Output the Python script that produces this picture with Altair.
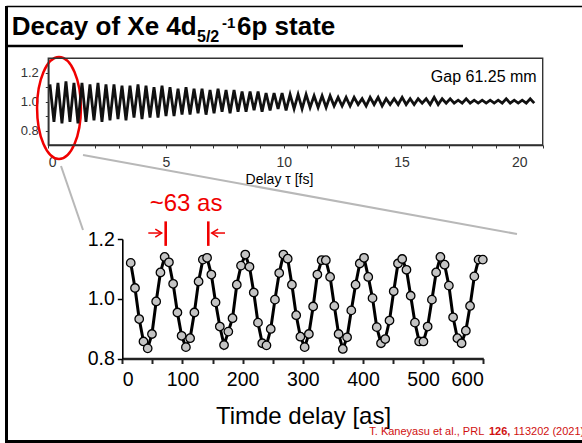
import altair as alt
import pandas as pd

# ---------------- data ----------------
# lower (zoomed) panel: delay in attoseconds and normalised signal
zoom_delay_as = [14.0, 21.1, 28.1, 35.2, 42.2, 49.3, 56.3, 63.4, 70.4, 77.5,
                 84.5, 91.6, 98.6, 105.7, 112.7, 119.8, 126.8, 133.9, 140.9, 148.0,
                 155.0, 162.1, 169.1, 176.2, 183.2, 190.3, 197.3, 204.4, 211.4, 218.5,
                 225.5, 232.6, 239.6, 246.7, 253.7, 260.8, 267.8, 274.9, 281.9, 289.0,
                 296.0, 303.1, 310.1, 317.2, 324.2, 331.3, 338.3, 345.4, 352.4, 359.5,
                 366.5, 373.6, 380.6, 387.7, 394.7, 401.8, 408.8, 415.9, 422.9, 430.0,
                 437.0, 444.1, 451.1, 458.2, 465.2, 472.3, 479.3, 486.4, 493.4, 500.5,
                 507.5, 514.6, 521.6, 528.7, 535.7, 542.8, 549.8, 556.9, 563.9, 571.0,
                 578.0, 585.1, 592.1, 599.2]
zoom_signal = [1.120, 1.036, 0.932, 0.857, 0.834, 0.882, 0.991, 1.088, 1.140, 1.122,
               1.050, 0.954, 0.876, 0.838, 0.868, 0.954, 1.058, 1.131, 1.137, 1.081,
               0.988, 0.907, 0.845, 0.890, 0.935, 1.047, 1.111, 1.148, 1.107, 1.021,
               0.920, 0.851, 0.844, 0.899, 0.997, 1.086, 1.148, 1.134, 1.047, 0.945,
               0.873, 0.838, 0.882, 0.974, 1.081, 1.129, 1.129, 1.073, 0.976, 0.882,
               0.832, 0.871, 0.961, 1.047, 1.118, 1.137, 1.073, 1.002, 0.905, 0.851,
               0.865, 0.927, 1.025, 1.118, 1.133, 1.097, 1.010, 0.920, 0.857, 0.857,
               0.907, 0.997, 1.088, 1.140, 1.114, 1.044, 0.938, 0.868, 0.851, 0.893,
               0.976, 1.075, 1.131, 1.131]

# upper (overview) panel: visible extrema of the decaying trace, delay in fs
overview_delay_fs = [0.07, 0.24, 0.41, 0.58, 0.75, 0.92, 1.09, 1.26, 1.43, 1.60,
                     1.77, 1.94, 2.11, 2.28, 2.45, 2.62, 2.79, 2.96, 3.13, 3.30,
                     3.47, 3.64, 3.81, 3.98, 4.15, 4.32, 4.49, 4.66, 4.83, 5.00,
                     5.17, 5.34, 5.51, 5.68, 5.85, 6.02, 6.19, 6.36, 6.53, 6.70,
                     6.87, 7.04, 7.21, 7.38, 7.55, 7.72, 7.89, 8.06, 8.23, 8.40,
                     8.57, 8.74, 8.91, 9.08, 9.25, 9.42, 9.59, 9.76, 9.93, 10.10,
                     10.27, 10.44, 10.61, 10.78, 10.95, 11.12, 11.29, 11.46, 11.63, 11.80,
                     11.97, 12.14, 12.31, 12.48, 12.65, 12.82, 12.99, 13.16, 13.33, 13.50,
                     13.67, 13.84, 14.01, 14.18, 14.35, 14.52, 14.69, 14.86, 15.03, 15.20,
                     15.37, 15.54, 15.71, 15.88, 16.05, 16.22, 16.39, 16.56, 16.73, 16.90,
                     17.07, 17.24, 17.41, 17.58, 17.75, 17.92, 18.09, 18.26, 18.43, 18.60,
                     18.77, 18.94, 19.11, 19.28, 19.45, 19.62, 19.79, 19.96, 20.13, 20.30,
                     20.47, 20.64]
overview_signal = [1.12, 0.86, 1.13, 0.85, 1.14, 0.86, 1.13, 0.85, 1.13, 0.86,
                   1.12, 0.87, 1.13, 0.86, 1.12, 0.87, 1.12, 0.88, 1.11, 0.87,
                   1.11, 0.89, 1.12, 0.88, 1.11, 0.89, 1.10, 0.89, 1.11, 0.90,
                   1.10, 0.90, 1.09, 0.91, 1.10, 0.91, 1.09, 0.92, 1.09, 0.91,
                   1.08, 0.92, 1.09, 0.93, 1.08, 0.92, 1.08, 0.93, 1.07, 0.93,
                   1.07, 0.94, 1.07, 0.93, 1.06, 0.94, 1.06, 0.95, 1.06, 0.94,
                   1.05, 0.95, 1.05, 0.95, 1.05, 0.96, 1.04, 0.96, 1.04, 0.96,
                   1.04, 0.97, 1.03, 0.97, 1.03, 0.97, 1.03, 0.98, 1.02, 0.97,
                   1.03, 0.98, 1.03, 0.97, 1.02, 0.98, 1.02, 0.98, 1.03, 0.98,
                   1.02, 0.98, 1.02, 0.99, 1.02, 0.98, 1.03, 0.98, 1.02, 0.99,
                   1.02, 0.99, 1.01, 0.99, 1.02, 0.99, 1.01, 0.99, 1.01, 0.99,
                   1.01, 0.99, 1.01, 0.99, 1.02, 0.99, 1.01, 0.99, 1.01, 0.99,
                   1.02, 0.99]

lower_x_ticks = [0, 50, 100, 150, 200, 250, 300, 350, 400, 450, 500, 550, 600]
lower_y_ticks = [0.8, 1.0, 1.2]
upper_x_ticks = list(range(0, 22))
upper_y_ticks = [0.8, 0.9, 1.0, 1.1, 1.2]

FONT = "Liberation Sans"
RED = "#f00000"

# ---------------- scales (pixel placement of each panel) ----------------
LX = alt.Scale(domain=[0, 600], range=[122.3, 483.3], nice=False, zero=False)
LY = alt.Scale(domain=[0.8, 1.2], range=[358.5, 239], nice=False, zero=False)
TX = alt.Scale(domain=[0, 21], range=[48.3, 542.7], nice=False, zero=False)
TY = alt.Scale(domain=[0.7, 1.3], range=[145, 58.3], nice=False, zero=False)
PX = alt.Scale(domain=[0, 582], range=[0, 582], nice=False, zero=False)
PY = alt.Scale(domain=[0, 443], range=[0, 443], nice=False, zero=False)

W, H = 582, 443

# ---------------- lower panel ----------------
lower_df = pd.DataFrame({"t": zoom_delay_as, "s": zoom_signal})

lower_line = alt.Chart(lower_df).mark_line(color="black", strokeWidth=3).encode(
    x=alt.X("t:Q", scale=LX, axis=alt.Axis(
        orient="bottom", offset=358.5 - H, values=lower_x_ticks,
        labelExpr="datum.value % 100 == 0 ? datum.label : ''",
        labelFont=FONT, labelFontSize=19.5, labelColor="black", labelPadding=7,
        tickSize=5, tickWidth=2, tickColor="#222", domainWidth=2.5, domainColor="#222",
        title="Timde delay [as]", titleFont=FONT, titleFontSize=24,
        titleFontWeight="normal", titleColor="black", titleX=303, titleY=65,
        titleBaseline="alphabetic")),
    y=alt.Y("s:Q", scale=LY, axis=alt.Axis(
        orient="left", offset=-122.3, values=lower_y_ticks, format=".1f",
        labelFont=FONT, labelFontSize=19.5, labelColor="black", labelPadding=3,
        tickSize=5, tickWidth=1.5, tickColor="black", domainWidth=1.6,
        domainColor="black", title=None)),
)

lower_pts = alt.Chart(lower_df).mark_point(
    filled=True, fill="#c4c4c4", stroke="black", strokeWidth=1.3, size=72, opacity=1
).encode(
    x=alt.X("t:Q", scale=LX, axis=None),
    y=alt.Y("s:Q", scale=LY, axis=None),
)

# period annotation (in the lower panel's data units)
mark_lines = pd.DataFrame({
    "x": [72.1, 142.9, 43.2, 148.6],
    "x2": [72.1, 142.9, 65.5, 170.7],
    "y": [1.177, 1.177, 1.22, 1.22],
    "y2": [1.259, 1.259, 1.22, 1.22],
    "w": [2.6, 2.6, 1.5, 1.5],
})
ann_rules = alt.Chart(mark_lines).mark_rule(color=RED).encode(
    x=alt.X("x:Q", scale=LX, axis=None), x2="x2:Q",
    y=alt.Y("y:Q", scale=LY, axis=None), y2="y2:Q",
    strokeWidth=alt.StrokeWidth("w:Q", scale=None),
)
heads_r = alt.Chart(pd.DataFrame({"x": [65.5], "y": [1.22]})).mark_point(
    shape="M -1.6 -1 L 0 0 L -1.6 1", size=64, stroke=RED, strokeWidth=1.5,
    filled=False, opacity=1).encode(
    x=alt.X("x:Q", scale=LX, axis=None), y=alt.Y("y:Q", scale=LY, axis=None))
heads_l = alt.Chart(pd.DataFrame({"x": [148.6], "y": [1.22]})).mark_point(
    shape="M 1.6 -1 L 0 0 L 1.6 1", size=64, stroke=RED, strokeWidth=1.5,
    filled=False, opacity=1).encode(
    x=alt.X("x:Q", scale=LX, axis=None), y=alt.Y("y:Q", scale=LY, axis=None))
period_text = alt.Chart(pd.DataFrame({"x": [105.9], "y": [1.295], "t": ["~63 as"]})).mark_text(
    font=FONT, fontSize=24, color=RED, align="center", baseline="alphabetic").encode(
    x=alt.X("x:Q", scale=LX, axis=None), y=alt.Y("y:Q", scale=LY, axis=None), text="t:N")

# ---------------- upper panel ----------------
upper_df = pd.DataFrame({"t": overview_delay_fs, "s": overview_signal})
upper_line = alt.Chart(upper_df).mark_line(color="#111", strokeWidth=2.8).encode(
    x=alt.X("t:Q", scale=TX, axis=alt.Axis(
        orient="bottom", offset=145 - H, values=upper_x_ticks,
        labelExpr="datum.value % 5 == 0 ? datum.label : ''",
        labelFont=FONT, labelFontSize=14, labelColor="#333", labelPadding=7,
        tickSize=3, tickColor="#333", tickWidth=1, domainColor="#222", domainWidth=1.5,
        title="Delay τ [fs]", titleFont=FONT, titleFontSize=14, titleFontWeight="normal",
        titleColor="black", titleX=279, titleY=38, titleBaseline="alphabetic")),
    y=alt.Y("s:Q", scale=TY, axis=alt.Axis(
        orient="left", offset=-48.3, values=upper_y_ticks, format=".1f",
        labelExpr="indexof(['0.8','1.0','1.2'], datum.label) >= 0 ? datum.label : ''",
        labelFont=FONT, labelFontSize=13, labelColor="#333", labelPadding=7,
        tickSize=3, tickColor="#333", domainColor="#222", domainWidth=1.5, title=None)),
)
frame = alt.Chart(pd.DataFrame({"x": [0], "x2": [21], "y": [0.7], "y2": [1.3]})).mark_rect(
    fillOpacity=0, stroke="#333", strokeWidth=1.4).encode(
    x=alt.X("x:Q", scale=TX, axis=None), x2="x2:Q",
    y=alt.Y("y:Q", scale=TY, axis=None), y2="y2:Q")

# ---------------- slide decorations (pixel units) ----------------
deco = pd.DataFrame({
    "x": [6.5, 6.5, 6.5, 6.5, 61, 83],
    "x2": [6.5, 582, 582, 463, 83, 517],
    "y": [6, 6.5, 441.5, 46, 166, 155],
    "y2": [443, 6.5, 441.5, 46, 230, 234],
    "w": [3, 1.5, 3, 2.5, 2, 2],
    "c": ["black", "black", "black", "black", "#b8b8b8", "#b8b8b8"],
})
deco_rules = alt.Chart(deco).mark_rule().encode(
    x=alt.X("x:Q", scale=PX, axis=None), x2="x2:Q",
    y=alt.Y("y:Q", scale=PY, axis=None), y2="y2:Q",
    strokeWidth=alt.StrokeWidth("w:Q", scale=None),
    color=alt.Color("c:N", scale=None),
)
ellipse = alt.Chart(pd.DataFrame({"x": [59], "y": [108]})).mark_point(
    shape="M -0.43 0 A 0.43 1 0 1 1 0.43 0 A 0.43 1 0 1 1 -0.43 0 Z",
    size=10404, stroke=RED, strokeWidth=2.5, filled=False, opacity=1).encode(
    x=alt.X("x:Q", scale=PX, axis=None), y=alt.Y("y:Q", scale=PY, axis=None))


def pix_text(rows, **kw):
    df = pd.DataFrame(rows, columns=["x", "y", "t", "fs"])
    return alt.Chart(df).mark_text(font=FONT, **kw).encode(
        x=alt.X("x:Q", scale=PX, axis=None),
        y=alt.Y("y:Q", scale=PY, axis=None),
        text="t:N",
        size=alt.Size("fs:Q", scale=None),
    )


title_txt = pix_text([
    (11.7, 35, "Decay of Xe 4d", 26),
    (197, 42, "5/2", 16),
    (222, 28, "-1", 15),
    (237, 35, "6p state", 26),
], align="left", baseline="alphabetic", fontWeight="bold", color="black")

gap_txt = pix_text([(536.7, 82.3, "Gap 61.25 mm", 16)],
                   align="right", baseline="alphabetic", color="black")

cite_norm = pix_text([
    (369.3, 435, "T. Kaneyasu et al., PRL", 11),
    (513.5, 435, "113202 (2021)", 11),
], align="left", baseline="alphabetic", color="#d01010")
cite_bold = pix_text([(489, 435, "126,", 11)],
                     align="left", baseline="alphabetic", color="#d01010",
                     fontWeight="bold")

chart = alt.layer(
    deco_rules, ellipse,
    frame, upper_line,
    lower_line, lower_pts,
    ann_rules, heads_r, heads_l, period_text,
    title_txt, gap_txt, cite_norm, cite_bold,
).resolve_scale(
    x="independent", y="independent"
).properties(
    width=W, height=H,
    autosize=alt.AutoSizeParams(type="none"),
    padding=0,
    background="white",
).configure_view(stroke=None).configure_axis(grid=False)

chart.save("out.html", embed_options={"renderer": "svg", "actions": False})
